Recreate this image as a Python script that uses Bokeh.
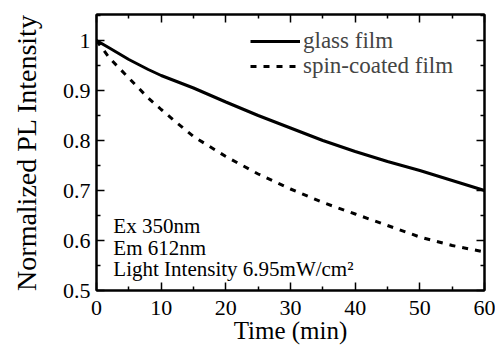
from bokeh.plotting import figure
from bokeh.models import (LinearAxis, FixedTicker, CustomJSTickFormatter, Legend,
                          LegendItem, Label, Range1d)
from bokeh.embed import file_html
from bokeh.resources import INLINE

# ---- data ----
time_min = [0, 2, 5, 8, 10, 12, 15, 20, 25, 30, 35, 40, 45, 50, 55, 60]
glass_film = [1.0, 0.985, 0.962, 0.942, 0.930, 0.920, 0.905, 0.877, 0.850,
              0.825, 0.800, 0.778, 0.758, 0.740, 0.720, 0.700]
spin_coated_film = [1.0, 0.965, 0.925, 0.885, 0.862, 0.840, 0.808, 0.768, 0.733,
                    0.703, 0.676, 0.653, 0.630, 0.607, 0.590, 0.577]
x_ticks = [0, 10, 20, 30, 40, 50, 60]
x_minor = [5, 15, 25, 35, 45, 55]
y_ticks = [0.5, 0.6, 0.7, 0.8, 0.9, 1.0]
y_minor = [0.55, 0.65, 0.75, 0.85, 0.95, 1.05]
x_title = "Time (min)"
y_title = "Normalized PL Intensity"
notes = ["Ex 350nm", "Em 612nm", "Light Intensity 6.95mW/cm\u00b2"]

FONT = "Liberation Serif"

p = figure(width=495, height=347, output_backend="svg", toolbar_location=None,
           x_range=Range1d(0, 60), y_range=Range1d(0.5, 1.052),
           min_border_left=96, min_border_right=11, min_border_top=14,
           min_border_bottom=57, x_axis_location=None, y_axis_location=None)
p.background_fill_color = "white"
p.border_fill_color = "white"
p.xgrid.visible = False
p.ygrid.visible = False
p.outline_line_color = "black"
p.outline_line_width = 2

fmt = CustomJSTickFormatter(code="return tick.toFixed(1).replace(/\\.0$/, '');")


def style(ax, labels=True):
    ax.axis_line_color = "black"
    ax.axis_line_width = 2
    ax.major_tick_in = 8
    ax.major_tick_out = 0
    ax.minor_tick_in = 4
    ax.minor_tick_out = 0
    ax.major_tick_line_width = 1.5
    ax.minor_tick_line_width = 1.5
    ax.major_label_text_font = FONT
    ax.major_label_text_font_size = "22px"
    ax.major_label_text_color = "black"
    ax.axis_label_text_font = FONT
    ax.axis_label_text_font_size = "25px"
    ax.axis_label_text_font_style = "normal"
    ax.axis_label_text_color = "black"
    if not labels:
        ax.major_label_text_font_size = "0px"
        ax.major_label_text_alpha = 0


xb = LinearAxis(ticker=FixedTicker(ticks=x_ticks, minor_ticks=x_minor),
                axis_label=x_title)
style(xb)
xb.major_label_text_line_height = 0.8
xb.axis_label_text_line_height = 0.8
xb.major_label_standoff = 10
xb.axis_label_standoff = -1
xt = LinearAxis(ticker=FixedTicker(ticks=x_ticks, minor_ticks=x_minor))
style(xt, labels=False)
yl = LinearAxis(ticker=FixedTicker(ticks=y_ticks, minor_ticks=y_minor),
                formatter=fmt, axis_label=y_title)
style(yl)
yl.axis_label_text_font_size = "28px"
yl.major_label_standoff = 6
yl.axis_label_standoff = 18
yr = LinearAxis(ticker=FixedTicker(ticks=y_ticks, minor_ticks=y_minor))
style(yr, labels=False)

p.add_layout(xb, "below")
p.add_layout(xt, "above")
p.add_layout(yl, "left")
p.add_layout(yr, "right")

r1 = p.line(time_min, glass_film, line_color="black", line_width=3)
r2 = p.line(time_min, spin_coated_film, line_color="black", line_width=3,
            line_dash="6 7")


def make_legend(label, renderer, loc):
    lg = Legend(items=[LegendItem(label=label, renderers=[renderer])], location=loc)
    lg.border_line_color = None
    lg.background_fill_alpha = 0
    lg.label_text_font = FONT
    lg.label_text_font_size = "23px"
    lg.glyph_width = 50
    lg.glyph_height = 20
    lg.label_height = 20
    lg.label_standoff = 3
    lg.spacing = 0
    lg.padding = 0
    lg.margin = 0
    return lg


p.add_layout(make_legend("glass film", r1, (154, 236)), "center")
p.add_layout(make_legend("spin-coated film", r2, (154, 211)), "center")

for txt, yv in zip(notes, [0.630, 0.586, 0.544]):
    p.add_layout(Label(x=2.6, y=yv, text=txt, text_font=FONT,
                       text_font_size="21px", text_color="black",
                       text_baseline="alphabetic"))

open("out.html", "w").write(file_html(p, INLINE))
